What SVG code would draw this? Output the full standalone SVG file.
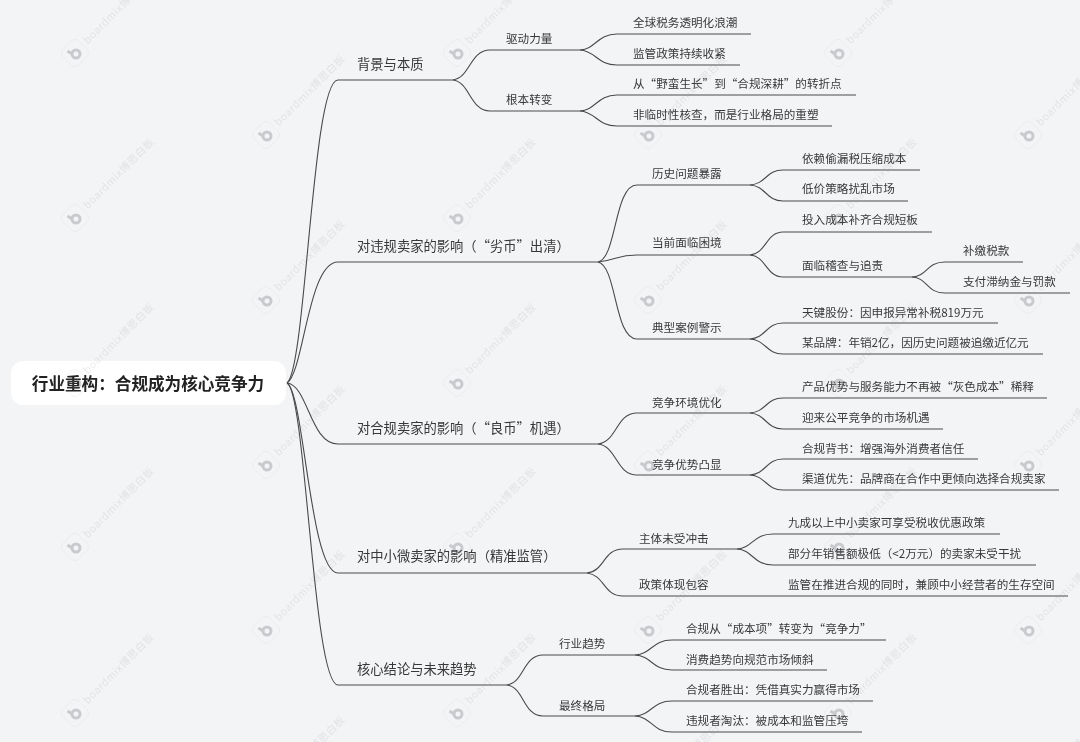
<svg xmlns="http://www.w3.org/2000/svg" width="1080" height="742" viewBox="0 0 1080 742">
<style>
text{font-family:"Noto Sans CJK SC","Noto Sans",sans-serif;fill:#383838;text-spacing-trim:space-all}
.r{font-size:16.6px;font-weight:700;fill:#222;text-anchor:middle}
.a{font-size:13.3px}
.b{font-size:11.6px}
.l,.c{fill:none;stroke:#4a4a4a;stroke-width:1.1}
.wt{font-family:"Noto Sans CJK SC","Liberation Sans",sans-serif;font-size:10.5px;letter-spacing:.5px;fill:#8c8c92;opacity:.62}
</style>
<defs>
<g id="wm" opacity=".27">
<rect x="-11" y="-11" width="22" height="22" rx="5" transform="rotate(-45)" fill="none" stroke="#a8a8ae" stroke-width=".8" opacity=".5"/>
<circle cx="1" cy="1" r="4" fill="none" stroke="#5e5e64" stroke-width="3"/>
<path d="M-3 1L-7.5-2" stroke="#5e5e64" stroke-width="3" fill="none"/>
<text class="wt" x="15" y="3" transform="rotate(-45)">boardmix博思白板</text>
</g>
<filter id="soft" x="-5%" y="-5%" width="110%" height="110%"><feGaussianBlur stdDeviation=".42"/></filter>
</defs>
<rect id="background" width="1080" height="742" fill="#f3f4f6"/>
<g filter="url(#soft)">
<g id="connectors">
<path class="c" d="M287 383C306 370 312 80 338 80"/>
<path class="c" d="M287 383C304 372 308 262 338 262"/>
<path class="c" d="M287 383C308 385 310 444 338 444"/>
<path class="c" d="M287 383C304 392 310 573 338 573"/>
<path class="c" d="M287 383C306 392 313 685 338 685"/>
<path class="c" d="M453 80C470 78 470 50 490 50"/>
<path class="c" d="M453 80C470 82 470 111 490 111"/>
<path class="c" d="M580 50C596 49 597 34 617 34"/>
<path class="c" d="M580 50C596 51 597 65 617 65"/>
<path class="c" d="M580 111C596 110 597 95 617 95"/>
<path class="c" d="M580 111C596 112 597 126 617 126"/>
<path class="c" d="M598 262C617 258 614 185 637 185"/>
<path class="c" d="M598 262C617 260 617 255 637 255"/>
<path class="c" d="M598 262C617 266 614 339 637 339"/>
<path class="c" d="M750 185C766 184 766 170 783 170"/>
<path class="c" d="M750 185C766 186 766 201 783 201"/>
<path class="c" d="M750 255C766 254 766 232 783 232"/>
<path class="c" d="M750 255C766 256 766 277 783 277"/>
<path class="c" d="M912 277C928 276 926 262 945 262"/>
<path class="c" d="M912 277C928 278 926 293 945 293"/>
<path class="c" d="M750 339C766 338 766 323 783 323"/>
<path class="c" d="M750 339C766 340 766 354 783 354"/>
<path class="c" d="M598 444C617 442 616 413 637 413"/>
<path class="c" d="M598 444C617 446 616 475 637 475"/>
<path class="c" d="M750 413C766 412 766 398 783 398"/>
<path class="c" d="M750 413C766 414 766 429 783 429"/>
<path class="c" d="M750 475C766 474 766 459 783 459"/>
<path class="c" d="M750 475C766 476 766 490 783 490"/>
<path class="c" d="M587 573C605 571 603 549 623 549"/>
<path class="c" d="M587 573C605 575 603 596 623 596"/>
<path class="c" d="M737 549C753 548 753 534 773 534"/>
<path class="c" d="M737 549C753 550 753 565 773 565"/>
<path class="c" d="M507 685C524 683 523 655 543 655"/>
<path class="c" d="M507 685C524 687 523 716 543 716"/>
<path class="c" d="M635 655C652 654 652 640 672 640"/>
<path class="c" d="M635 655C652 656 652 670 672 670"/>
<path class="c" d="M635 716C652 715 652 701 672 701"/>
<path class="c" d="M635 716C652 717 652 732 672 732"/>
</g>
<g id="root"><rect x="11" y="361" width="275" height="44" rx="12" fill="#fff"/><text class="r" x="148" y="390">行业重构：合规成为核心竞争力</text></g>

<g id="n1"><path class="l" d="M338 80H453"/><text class="a" x="357" y="69">背景与本质</text></g>
<g id="n1-1"><path class="l" d="M490 50H580"/><text class="b" x="506" y="42.7">驱动力量</text></g>
<g id="n1-1-1"><path class="l" d="M617 34H751"/><text class="b" x="633" y="27.2">全球税务透明化浪潮</text></g>
<g id="n1-1-2"><path class="l" d="M617 65H740"/><text class="b" x="633" y="57.7">监管政策持续收紧</text></g>
<g id="n1-2"><path class="l" d="M490 111H580"/><text class="b" x="506" y="103.7">根本转变</text></g>
<g id="n1-2-1"><path class="l" d="M617 95H856"/><text class="b" x="633" y="88.4">从“野蛮生长”到“合规深耕”的转折点</text></g>
<g id="n1-2-2"><path class="l" d="M617 126H832"/><text class="b" x="633" y="119">非临时性核查，而是行业格局的重塑</text></g>

<g id="n2"><path class="l" d="M338 262H598"/><text class="a" x="357" y="250.5">对违规卖家的影响（“劣币”出清）</text></g>
<g id="n2-1"><path class="l" d="M637 185H750"/><text class="b" x="652" y="178.4">历史问题暴露</text></g>
<g id="n2-1-1"><path class="l" d="M783 170H920"/><text class="b" x="802" y="163">依赖偷漏税压缩成本</text></g>
<g id="n2-1-2"><path class="l" d="M783 201H908"/><text class="b" x="802" y="193.4">低价策略扰乱市场</text></g>
<g id="n2-2"><path class="l" d="M637 255H750"/><text class="b" x="652" y="247.4">当前面临困境</text></g>
<g id="n2-2-1"><path class="l" d="M783 232H932"/><text class="b" x="802" y="224.4">投入成本补齐合规短板</text></g>
<g id="n2-2-2"><path class="l" d="M783 277H912"/><text class="b" x="802" y="270.4">面临稽查与追责</text></g>
<g id="n2-2-2-1"><path class="l" d="M945 262H1023"/><text class="b" x="963" y="255.4">补缴税款</text></g>
<g id="n2-2-2-2"><path class="l" d="M945 293H1070"/><text class="b" x="963" y="286.4">支付滞纳金与罚款</text></g>
<g id="n2-3"><path class="l" d="M637 339H750"/><text class="b" x="652" y="332.4">典型案例警示</text></g>
<g id="n2-3-1"><path class="l" d="M783 323H998"/><text class="b" x="802" y="316.6">天键股份：因申报异常补税819万元</text></g>
<g id="n2-3-2"><path class="l" d="M783 354H1043"/><text class="b" x="802" y="346.6">某品牌：年销2亿，因历史问题被追缴近亿元</text></g>

<g id="n3"><path class="l" d="M338 444H598"/><text class="a" x="357" y="432.7">对合规卖家的影响（“良币”机遇）</text></g>
<g id="n3-1"><path class="l" d="M637 413H750"/><text class="b" x="652" y="406.6">竞争环境优化</text></g>
<g id="n3-1-1"><path class="l" d="M783 398H1047"/><text class="b" x="802" y="391">产品优势与服务能力不再被“灰色成本”稀释</text></g>
<g id="n3-1-2"><path class="l" d="M783 429H943"/><text class="b" x="802" y="421.6">迎来公平竞争的市场机遇</text></g>
<g id="n3-2"><path class="l" d="M637 475H750"/><text class="b" x="652" y="468.6">竞争优势凸显</text></g>
<g id="n3-2-1"><path class="l" d="M783 459H978"/><text class="b" x="802" y="452.6">合规背书：增强海外消费者信任</text></g>
<g id="n3-2-2"><path class="l" d="M783 490H1059"/><text class="b" x="802" y="482.8">渠道优先：品牌商在合作中更倾向选择合规卖家</text></g>

<g id="n4"><path class="l" d="M338 573H587"/><text class="a" x="357" y="560.6">对中小微卖家的影响（精准监管）</text></g>
<g id="n4-1"><path class="l" d="M623 549H737"/><text class="b" x="639" y="542.6">主体未受冲击</text></g>
<g id="n4-1-1"><path class="l" d="M773 534H1000"/><text class="b" x="788" y="527">九成以上中小卖家可享受税收优惠政策</text></g>
<g id="n4-1-2"><path class="l" d="M773 565H1036"/><text class="b" x="788" y="557.8">部分年销售额极低（&lt;2万元）的卖家未受干扰</text></g>
<g id="n4-2"><path class="l" d="M623 596H773"/><text class="b" x="639" y="588.6">政策体现包容</text></g>
<g id="n4-2-1"><path class="l" d="M773 596H1068"/><text class="b" x="788" y="588.6">监管在推进合规的同时，兼顾中小经营者的生存空间</text></g>

<g id="n5"><path class="l" d="M338 685H507"/><text class="a" x="357" y="674">核心结论与未来趋势</text></g>
<g id="n5-1"><path class="l" d="M543 655H635"/><text class="b" x="559" y="647.6">行业趋势</text></g>
<g id="n5-1-1"><path class="l" d="M672 640H886"/><text class="b" x="686" y="632.6">合规从“成本项”转变为“竞争力”</text></g>
<g id="n5-1-2"><path class="l" d="M672 670H827"/><text class="b" x="686" y="663.6">消费趋势向规范市场倾斜</text></g>
<g id="n5-2"><path class="l" d="M543 716H635"/><text class="b" x="559" y="709.6">最终格局</text></g>
<g id="n5-2-1"><path class="l" d="M672 701H873"/><text class="b" x="686" y="693.6">合规者胜出：凭借真实力赢得市场</text></g>
<g id="n5-2-2"><path class="l" d="M672 732H862"/><text class="b" x="686" y="725">违规者淘汰：被成本和监管压垮</text></g>
</g>

<g id="watermarks">
<use href="#wm" x="75" y="53"/><use href="#wm" x="457" y="53"/><use href="#wm" x="838" y="53"/>
<use href="#wm" x="266" y="135"/><use href="#wm" x="648" y="135"/><use href="#wm" x="1028" y="135"/>
<use href="#wm" x="75" y="218"/><use href="#wm" x="457" y="218"/><use href="#wm" x="838" y="218"/>
<use href="#wm" x="266" y="300"/><use href="#wm" x="648" y="300"/><use href="#wm" x="1028" y="300"/>
<use href="#wm" x="75" y="383"/><use href="#wm" x="457" y="383"/><use href="#wm" x="838" y="383"/>
<use href="#wm" x="266" y="465"/><use href="#wm" x="648" y="465"/><use href="#wm" x="1028" y="465"/>
<use href="#wm" x="75" y="547"/><use href="#wm" x="457" y="547"/><use href="#wm" x="838" y="547"/>
<use href="#wm" x="266" y="630"/><use href="#wm" x="648" y="630"/><use href="#wm" x="1028" y="630"/>
<use href="#wm" x="75" y="713"/><use href="#wm" x="457" y="713"/><use href="#wm" x="838" y="713"/>
<use href="#wm" x="266" y="796"/><use href="#wm" x="648" y="796"/><use href="#wm" x="1028" y="796"/>
</g>
</svg>
